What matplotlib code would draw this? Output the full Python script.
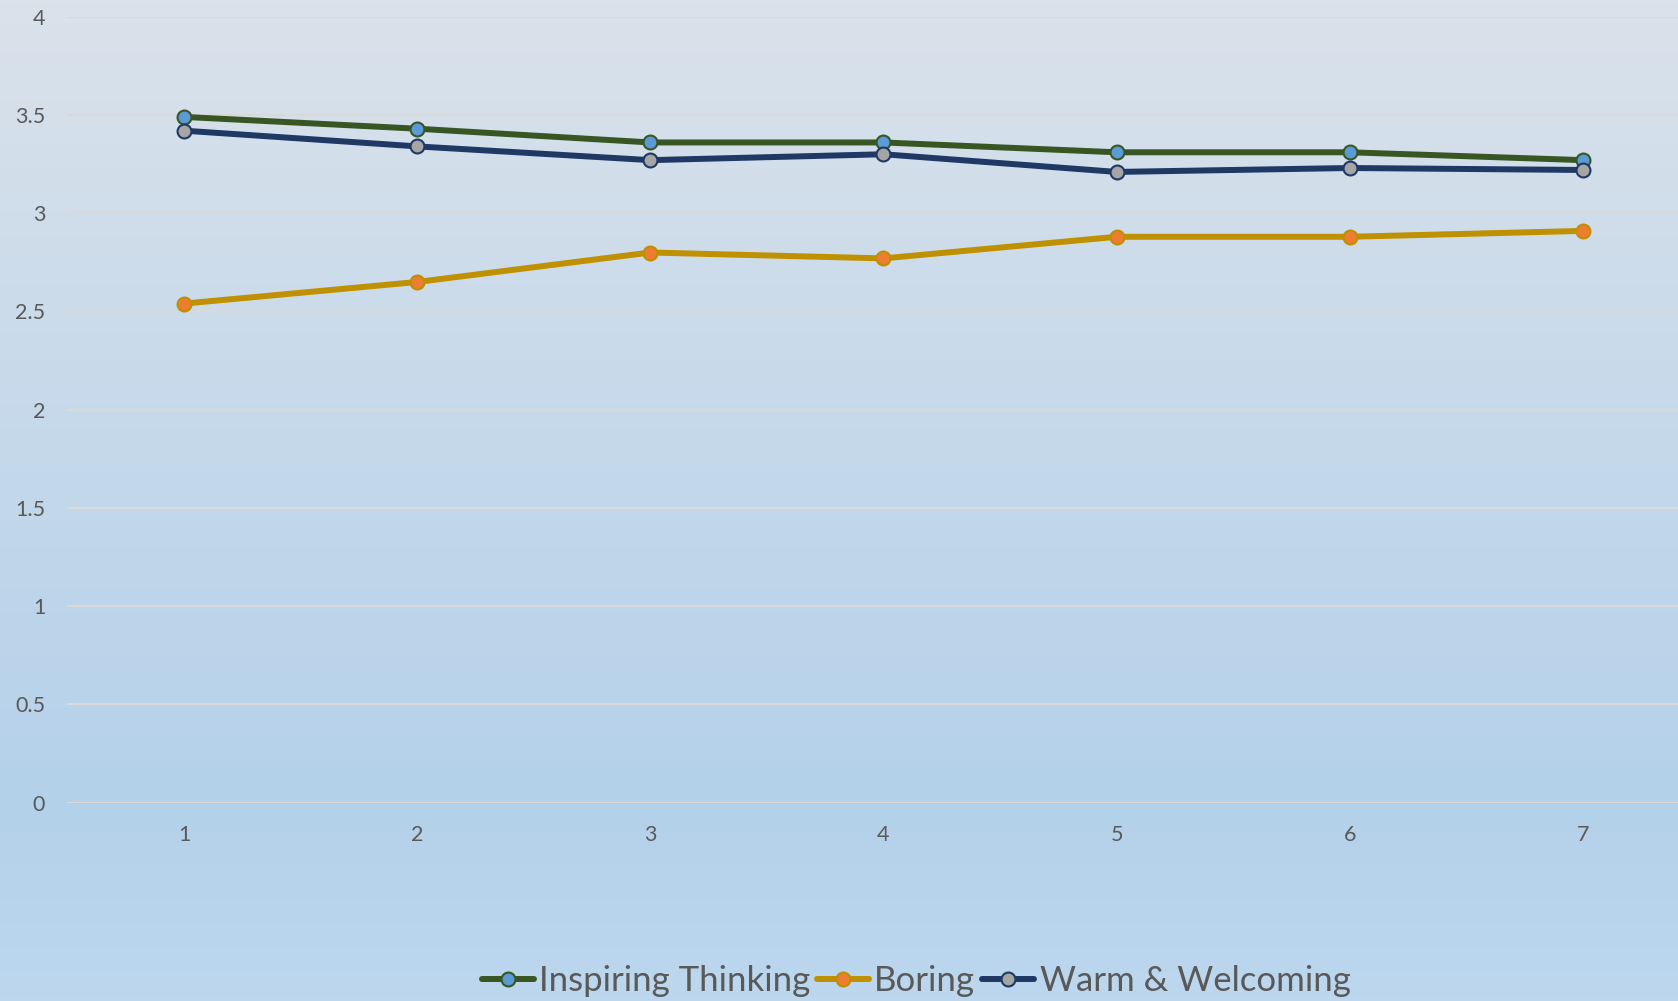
import numpy as np
import matplotlib
matplotlib.use("Agg")
import matplotlib.pyplot as plt
from matplotlib.colors import LinearSegmentedColormap

# ---- data ----
categories = [1, 2, 3, 4, 5, 6, 7]
inspiring_thinking = [3.49, 3.43, 3.36, 3.36, 3.31, 3.31, 3.27]
boring = [2.54, 2.65, 2.80, 2.77, 2.88, 2.88, 2.91]
warm_welcoming = [3.42, 3.34, 3.27, 3.30, 3.21, 3.23, 3.22]
y_ticks = [0, 0.5, 1, 1.5, 2, 2.5, 3, 3.5, 4]
y_tick_labels = ["0", "0.5", "1", "1.5", "2", "2.5", "3", "3.5", "4"]
series_names = ["Inspiring Thinking", "Boring", "Warm & Welcoming"]

plt.rcParams['font.family'] = ['Lato', 'DejaVu Sans']
text_color = "#595959"

W, H = 1678, 1001
fig = plt.figure(figsize=(W / 100, H / 100), dpi=100)

# gradient background
bg = fig.add_axes([0, 0, 1, 1], zorder=-10)
cmap = LinearSegmentedColormap.from_list(
    "bg", [(0.0, "#dae2ea"), (0.80, "#b4d1ea"), (1.0, "#bcd7ee")])
grad = np.linspace(0, 1, 256).reshape(-1, 1)
bg.imshow(grad, aspect="auto", cmap=cmap, extent=[0, 1, 0, 1], origin="upper")
bg.set_axis_off()

left = 67.4 / W
right = 1699.6 / W
bottom = (H - 802.7) / H
top = (H - 16.7) / H
ax = fig.add_axes([left, bottom, right - left, top - bottom])
ax.set_facecolor("none")

styles = [
    dict(color="#375623", mfc="#5b9bd5", mec="#375623"),
    dict(color="#bf9000", mfc="#ed7d31", mec="#bf9000"),
    dict(color="#1f3864", mfc="#a5a5a5", mec="#1f3864"),
]
for vals, name, st in zip([inspiring_thinking, boring, warm_welcoming], series_names, styles):
    ax.plot(categories, vals, color=st["color"], lw=4.3, marker="o", ms=10,
            mfc=st["mfc"], mec=st["mec"], mew=1.5, label=name, zorder=3,
            solid_capstyle="round")

ax.set_xlim(0.5, 7.5)
ax.set_ylim(0, 4)
ax.set_yticks(y_ticks)
ax.set_yticklabels(y_tick_labels)
ax.set_xticks(categories)
ax.set_xticklabels([str(c) for c in categories])
ax.yaxis.grid(True, color="#d9d9d9", lw=1.5)
ax.set_axisbelow(True)
for s in ax.spines.values():
    s.set_visible(False)
ax.tick_params(axis="both", length=0, labelsize=15.5, labelcolor=text_color)
ax.tick_params(axis="y", pad=16)
ax.tick_params(axis="x", pad=16)

fig.legend(loc="center", bbox_to_anchor=(916 / W, 1 - 981 / H), ncol=3,
           frameon=False, fontsize=25, labelcolor=text_color,
           handlelength=1.5, handletextpad=0.15, columnspacing=0.2,
           borderaxespad=0)

fig.savefig("out.png", dpi=100)
